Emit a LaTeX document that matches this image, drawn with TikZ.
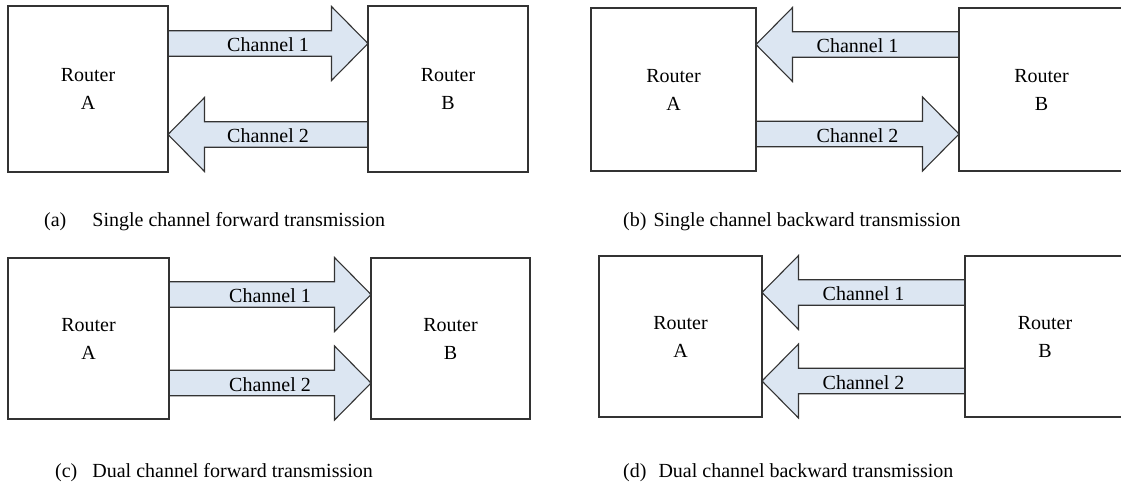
\documentclass[tikz,border=0pt]{standalone}
\usepackage{fontspec}
\setmainfont{Liberation Serif}
\usetikzlibrary{calc,backgrounds}

\definecolor{chanfill}{HTML}{DCE6F2}
\definecolor{edgegrey}{HTML}{333333}

% arrow geometry: shaft half-height, head half-height, head length
\def\chanSH{12.75}
\def\chanHH{37}
\def\chanHL{36.5}

% channel pointing right: from the east side of #1 to the west side of #2
\newcommand\chanright[5]{%
  \path (#1.east |- 0,#3) coordinate (#5s) (#2.west |- 0,#3) coordinate (#5t);
  \begin{scope}[on background layer]
    \draw[chanbody] ($(#5s)+(0,-\chanSH)$) -- ($(#5t)+(-\chanHL,-\chanSH)$)
      -- ($(#5t)+(-\chanHL,-\chanHH)$) -- (#5t) -- ($(#5t)+(-\chanHL,\chanHH)$)
      -- ($(#5t)+(-\chanHL,\chanSH)$) -- ($(#5s)+(0,\chanSH)$);
  \end{scope}
  \node[chanlabel] (#5l) at ($(#5s)!0.5!(#5t)$) {#4};
}
% channel pointing left: from the west side of #1 to the east side of #2
\newcommand\chanleft[5]{%
  \path (#1.west |- 0,#3) coordinate (#5s) (#2.east |- 0,#3) coordinate (#5t);
  \begin{scope}[on background layer]
    \draw[chanbody] ($(#5s)+(0,-\chanSH)$) -- ($(#5t)+(\chanHL,-\chanSH)$)
      -- ($(#5t)+(\chanHL,-\chanHH)$) -- (#5t) -- ($(#5t)+(\chanHL,\chanHH)$)
      -- ($(#5t)+(\chanHL,\chanSH)$) -- ($(#5s)+(0,\chanSH)$);
  \end{scope}
  \node[chanlabel] (#5l) at ($(#5s)!0.5!(#5t)$) {#4};
}

\begin{document}
\begin{tikzpicture}[x=1pt,y=-1pt,
  router/.style={draw=edgegrey,line width=1.2pt,rectangle,outer sep=0pt,inner sep=0pt,
    align=center,font=\fontsize{20}{28}\selectfont},
  chanbody/.style={draw=edgegrey,line width=1.1pt,fill=chanfill,line join=miter},
  chanlabel/.style={font=\fontsize{20}{24}\selectfont,inner sep=0pt,yshift=-1.5pt},
  caption/.style={font=\fontsize{20}{24}\selectfont,anchor=base west,inner sep=0pt}]
\useasboundingbox (0,0) rectangle (1121,483);
\clip (0,0) rectangle (1121,483);
\begin{scope}[on background layer]
  \fill[white] (0,0) rectangle (1121,483);
\end{scope}

% (a) single channel forward
\node[router,minimum width=160pt,minimum height=166pt] (aA) at (88,89) {Router\\A};
\node[router,minimum width=160pt,minimum height=166pt] (aB) at (448,89) {Router\\B};
\chanright{aA}{aB}{43.5}{Channel 1}{ac1}
\chanleft{aB}{aA}{134.5}{Channel 2}{ac2}
\node[caption] (capa) at (44,226) {(a)\hspace{26pt}Single channel forward transmission};

% (b) single channel backward
\node[router,minimum width=165pt,minimum height=163pt] (bA) at (673.5,89.5) {Router\\A};
\node[router,minimum width=165pt,minimum height=163pt] (bB) at (1041.5,89.5) {Router\\B};
\chanleft{bB}{bA}{44.5}{Channel 1}{bc1}
\chanright{bA}{bB}{134}{Channel 2}{bc2}
\node[caption] (capb) at (623,226) {(b)\hspace{7pt}Single channel backward transmission};

% (c) dual channel forward
\node[router,minimum width=161pt,minimum height=161pt] (cA) at (88.5,338.5) {Router\\A};
\node[router,minimum width=159pt,minimum height=161pt] (cB) at (450.5,338.5) {Router\\B};
\chanright{cA}{cB}{294.5}{Channel 1}{cc1}
\chanright{cA}{cB}{383}{Channel 2}{cc2}
\node[caption] (capc) at (55,477) {(c)\hspace{15pt}Dual channel forward transmission};

% (d) dual channel backward
\node[router,minimum width=163pt,minimum height=161pt] (dA) at (680.5,336.5) {Router\\A};
\node[router,minimum width=160pt,minimum height=161pt] (dB) at (1045,336.5) {Router\\B};
\chanleft{dB}{dA}{292.5}{Channel 1}{dc1}
\chanleft{dB}{dA}{381}{Channel 2}{dc2}
\node[caption] (capd) at (623,477) {(d)\hspace{12pt}Dual channel backward transmission};
\end{tikzpicture}
\end{document}
